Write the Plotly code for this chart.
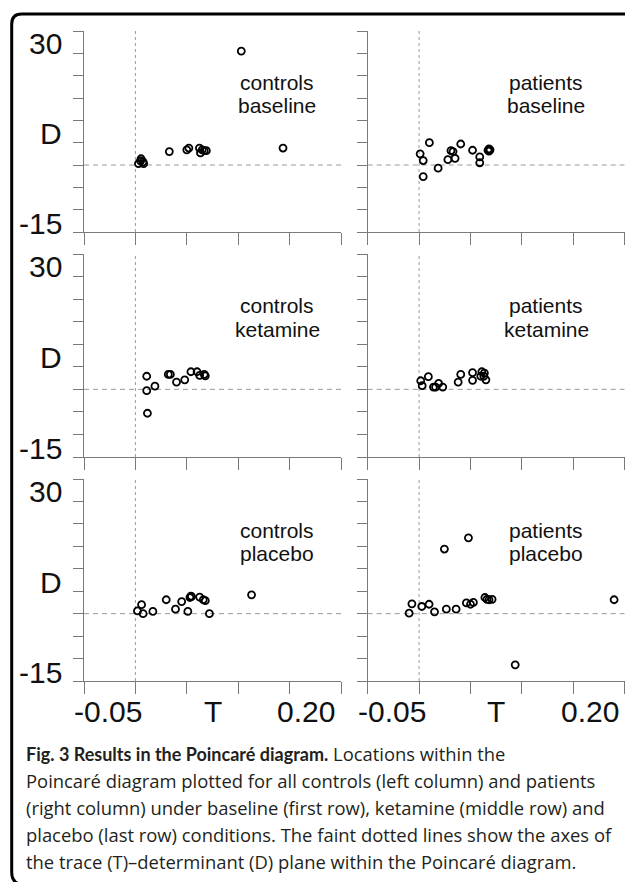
import plotly.graph_objects as go

W, H = 625, 882

# ---------------- data (T = trace, D = determinant) ----------------
T_TICKS = [-0.05, 0.0, 0.05, 0.10, 0.15, 0.20]
D_TICKS = [-15, -10, -5, 0, 5, 10, 15, 20, 25, 30]
T_LABELS = ["-0.05", "T", "0.20"]
D_LABELS = ["30", "D", "-15"]

groups = ["controls", "patients"]
conditions = ["baseline", "ketamine", "placebo"]

controls_baseline_T = [0.0055, 0.0075, 0.003, 0.008, 0.005, 0.033, 0.050, 0.052, 0.0623, 0.0633,
                       0.065, 0.067, 0.069, 0.103, 0.1436]
controls_baseline_D = [1.4, 0.7, 0.3, 0.3, 0.9, 3.0, 3.4, 3.8, 3.8, 2.7,
                       3.4, 3.2, 3.2, 25.5, 3.8]

patients_baseline_T = [0.001, 0.004, 0.004, 0.010, 0.0185, 0.028, 0.031, 0.033, 0.035, 0.0405,
                       0.052, 0.059, 0.059, 0.067, 0.068, 0.069, 0.068]
patients_baseline_D = [2.5, 1.0, -2.6, 5.0, -0.7, 1.2, 3.2, 3.0, 1.5, 4.7,
                       3.3, 1.8, 0.5, 3.3, 3.6, 3.4, 3.1]

controls_ketamine_T = [0.011, 0.011, 0.0117, 0.019, 0.032, 0.034, 0.040, 0.048, 0.054, 0.060,
                       0.0625, 0.067, 0.068]
controls_ketamine_D = [2.9, -0.3, -5.3, 0.7, 3.3, 3.3, 1.6, 2.1, 3.9, 3.9,
                       3.1, 3.3, 3.0]

patients_ketamine_T = [0.0016, 0.003, 0.009, 0.014, 0.016, 0.019, 0.023, 0.038, 0.0405, 0.052,
                       0.052, 0.061, 0.0635, 0.060, 0.063, 0.065]
patients_ketamine_D = [1.9, 0.8, 2.8, 0.5, 0.5, 1.3, 0.5, 1.6, 3.3, 3.7,
                       2.0, 3.9, 3.6, 2.9, 2.9, 2.1]

controls_placebo_T = [0.002, 0.006, 0.0075, 0.017, 0.030, 0.039, 0.045, 0.051, 0.053, 0.054,
                      0.0545, 0.0625, 0.066, 0.068, 0.072, 0.113]
controls_placebo_D = [0.6, 2.0, 0.0, 0.5, 3.1, 1.0, 2.7, 0.5, 3.6, 3.9,
                      3.8, 3.7, 3.1, 2.9, 0.0, 4.2]

patients_placebo_T = [-0.0097, -0.007, 0.0026, 0.0097, 0.015, 0.0246, 0.0265, 0.036, 0.046, 0.048,
                      0.050, 0.0528, 0.064, 0.066, 0.068, 0.071, 0.0935, 0.1897]
patients_placebo_D = [0.1, 2.2, 1.6, 2.1, 0.4, 14.4, 1.0, 1.0, 2.4, 16.9,
                      2.1, 2.5, 3.6, 3.2, 3.1, 3.2, -11.4, 3.1]

panel_data = [
    (controls_baseline_T, controls_baseline_D),
    (patients_baseline_T, patients_baseline_D),
    (controls_ketamine_T, controls_ketamine_D),
    (patients_ketamine_T, patients_ketamine_D),
    (controls_placebo_T, controls_placebo_D),
    (patients_placebo_T, patients_placebo_D),
]

caption_title = "Fig. 3 Results in the Poincaré diagram."
caption_lines = [
    " Locations within the",
    "Poincaré diagram plotted for all controls (left column) and patients",
    "(right column) under baseline (first row), ketamine (middle row) and",
    "placebo (last row) conditions. The faint dotted lines show the axes of",
    "the trace (T)–determinant (D) plane within the Poincaré diagram.",
]

# ---------------- layout helpers (pixel -> paper) ----------------
def px(x):
    return x / W

def py(y):
    return 1 - y / H

col_dom = [[px(84), px(341)], [px(367.7), px(624.7)]]
row_dom = [[py(232), py(31)], [py(457), py(254)], [py(681), py(479)]]

AX = "#7a7a7a"
REF = "#9a9a9a"
FONT = "Liberation Sans, Arial, Helvetica, sans-serif"

fig = go.Figure()
layout = dict(
    width=W, height=H,
    margin=dict(l=0, r=0, t=0, b=0),
    paper_bgcolor="white", plot_bgcolor="white",
    showlegend=False,
    font=dict(family=FONT, color="black"),
)
annotations = []
shapes = []

for i, (tv, dv) in enumerate(panel_data):
    r, c = divmod(i, 2)
    n = i + 1
    xs = "x" if n == 1 else f"x{n}"
    ys = "y" if n == 1 else f"y{n}"
    fig.add_trace(go.Scatter(
        x=tv, y=dv, mode="markers", xaxis=xs, yaxis=ys,
        marker=dict(symbol="circle-open", size=7, color="black",
                    line=dict(width=1.8, color="black")),
        hoverinfo="x+y",
    ))
    layout[f"xaxis{'' if n == 1 else n}"] = dict(
        domain=col_dom[c], anchor=ys, range=[T_TICKS[0], T_TICKS[-1]],
        tickvals=T_TICKS, showticklabels=False, ticks="outside", ticklen=12,
        tickwidth=1.3, tickcolor=AX, showline=True, linecolor=AX, linewidth=1.3,
        showgrid=False, zeroline=False, fixedrange=True,
    )
    layout[f"yaxis{'' if n == 1 else n}"] = dict(
        domain=row_dom[r], anchor=xs, range=[D_TICKS[0], D_TICKS[-1]],
        tickvals=D_TICKS, showticklabels=False, ticks="outside", ticklen=10,
        tickwidth=1.3, tickcolor=AX, showline=True, linecolor=AX, linewidth=1.3,
        showgrid=False, zeroline=False, fixedrange=True,
    )
    # faint dotted axes of the T-D plane
    shapes.append(dict(type="line", xref=xs, yref=ys, x0=0, x1=0,
                       y0=D_TICKS[0], y1=D_TICKS[-1], layer="below",
                       line=dict(color=REF, width=1, dash="3px,3px")))
    shapes.append(dict(type="line", xref=xs, yref=ys, x0=T_TICKS[0], x1=T_TICKS[-1],
                       y0=0, y1=0, layer="below",
                       line=dict(color=REF, width=1, dash="5px,4px")))
    # panel label (two lines)
    lx = 0.751 if c == 0 else 0.695
    for txt, fy in [(groups[c], 0.745), (conditions[r], 0.629)]:
        annotations.append(dict(text=txt, xref=f"{xs} domain", yref=f"{ys} domain",
                                x=lx, y=fy, xanchor="center", yanchor="middle",
                                showarrow=False, borderpad=0,
                                font=dict(size=21, family=FONT, color="#111")))
    # y labels (left column only)
    if c == 0:
        for txt, fy in zip(D_LABELS, [0.937, 0.49, 0.043]):
            annotations.append(dict(text=txt, xref=f"{xs} domain", yref=f"{ys} domain",
                                    x=-0.082, y=fy, xanchor="right", yanchor="middle",
                                    showarrow=False, borderpad=0,
                                    font=dict(size=30, family=FONT, color="#111")))
    # x labels (bottom row only)
    if r == 2:
        for txt, fx in zip(T_LABELS, [0.093, 0.5, 0.864]):
            annotations.append(dict(text=txt, xref=f"{xs} domain", yref=f"{ys} domain",
                                    x=fx, y=-0.153, xanchor="center", yanchor="middle",
                                    showarrow=False, borderpad=0,
                                    font=dict(size=30, family=FONT, color="#111")))

# caption
CAP_FONT = "Open Sans, Noto Sans, sans-serif"
for k, line in enumerate(caption_lines):
    base = 759 + 27 * k
    if k == 0:
        line = (f"<span style='font-family:Lato, sans-serif; font-size:18px'><b>{caption_title}</b></span>"
                + line)
    annotations.append(dict(text=line, xref="paper", yref="paper",
                            x=px(25), y=py(base - 6), xanchor="left", yanchor="middle",
                            showarrow=False, borderpad=0,
                            font=dict(size=18.4, family=CAP_FONT, color="#231f20")))

# outer rounded frame (open on the right)
fx0, fy0, rad = 11.7, 14.0, 10
path = (f"M {px(640)} {py(fy0)} L {px(fx0 + rad)} {py(fy0)} "
        f"Q {px(fx0)} {py(fy0)} {px(fx0)} {py(fy0 + rad)} "
        f"L {px(fx0)} {py(872)} Q {px(fx0)} {py(882)} {px(fx0 + 8)} {py(884)}")
shapes.append(dict(type="path", xref="paper", yref="paper", path=path,
                   line=dict(color="black", width=3)))

layout["annotations"] = annotations
layout["shapes"] = shapes
fig.update_layout(**layout)

fig.write_html("out.html", config={"displayModeBar": False},
               post_script="document.body.style.margin='0';")
